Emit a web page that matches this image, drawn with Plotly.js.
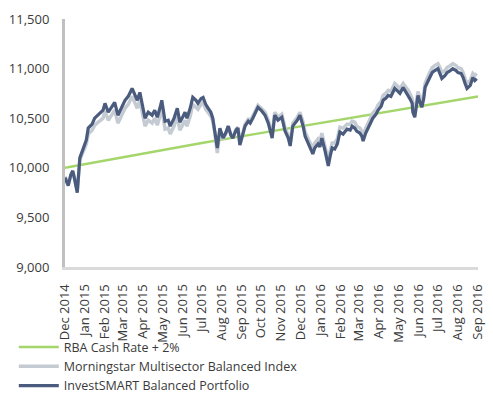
<!DOCTYPE html>
<html>
<head>
<meta charset="utf-8">
<script src="https://cdn.plot.ly/plotly-3.0.1.min.js"></script>
<style>html,body{margin:0;padding:0;background:#fff;}#chart{width:493px;height:393px;}</style>
</head>
<body>
<div id="chart"></div>
<script>
// Monthly benchmark dates and values
var rbaDates = ['2014-12-01','2015-01-01','2015-02-01','2015-03-01','2015-04-01','2015-05-01','2015-06-01','2015-07-01','2015-08-01','2015-09-01','2015-10-01','2015-11-01','2015-12-01','2016-01-01','2016-02-01','2016-03-01','2016-04-01','2016-05-01','2016-06-01','2016-07-01','2016-08-01','2016-09-01'];
var rbaValues = [10000,10037,10074,10110,10146,10182,10216,10250,10284,10318,10352,10386,10420,10454,10488,10522,10556,10590,10623,10656,10688,10718];

// Portfolio / index observation dates
var obsDates = [
'2014-12-01','2014-12-06','2014-12-10','2014-12-13','2014-12-16','2014-12-20','2014-12-24','2014-12-29',
'2015-01-03','2015-01-06','2015-01-12','2015-01-16','2015-01-24','2015-01-29',
'2015-02-01','2015-02-06','2015-02-12','2015-02-16','2015-02-21','2015-02-26','2015-03-04','2015-03-09','2015-03-15','2015-03-19','2015-03-23','2015-03-27',
'2015-04-01','2015-04-04','2015-04-09','2015-04-15','2015-04-19','2015-04-23','2015-04-27','2015-04-30','2015-05-05','2015-05-10','2015-05-13','2015-05-19','2015-05-24','2015-05-28',
'2015-06-02','2015-06-05','2015-06-08','2015-06-13','2015-06-17','2015-06-22','2015-06-25','2015-06-30','2015-07-03','2015-07-07','2015-07-11','2015-07-15','2015-07-18',
'2015-07-21','2015-07-25','2015-07-29','2015-08-03','2015-08-07','2015-08-11','2015-08-15','2015-08-18','2015-08-23','2015-08-26','2015-08-29',
'2015-09-03','2015-09-06','2015-09-11','2015-09-14','2015-09-18','2015-09-23','2015-09-26','2015-10-01','2015-10-07','2015-10-12','2015-10-15','2015-10-18',
'2015-10-22','2015-10-27','2015-11-02','2015-11-07','2015-11-12','2015-11-15','2015-11-19','2015-11-26','2015-11-30',
'2015-12-05','2015-12-08','2015-12-13','2015-12-16','2015-12-20','2015-12-23','2015-12-28','2015-12-31','2016-01-03','2016-01-08','2016-01-13','2016-01-16','2016-01-19','2016-01-23','2016-01-27','2016-01-31',
'2016-02-05','2016-02-11','2016-02-16','2016-02-19','2016-02-23','2016-02-26','2016-03-02','2016-03-05','2016-03-07','2016-03-11','2016-03-15','2016-03-19','2016-03-22','2016-03-27','2016-03-30',
'2016-04-04','2016-04-07','2016-04-11','2016-04-15','2016-04-19','2016-04-25','2016-04-30','2016-05-03','2016-05-08','2016-05-12','2016-05-16','2016-05-19','2016-05-22','2016-05-23','2016-05-26','2016-05-28','2016-05-31',
'2016-06-03','2016-06-06','2016-06-09','2016-06-11','2016-06-16','2016-06-22','2016-06-26','2016-07-01','2016-07-04','2016-07-07','2016-07-12','2016-07-15','2016-07-20','2016-07-24','2016-07-29','2016-08-01','2016-08-06','2016-08-09','2016-08-12','2016-08-15','2016-08-20','2016-08-24','2016-08-27','2016-08-30'
];

var morningstarValues = [
9910,9840,9920,9960,9890,9770,10080,10170,
10240,10340,10380,10430,10480,10500,
10570,10480,10540,10580,10450,10520,10600,10640,10720,10660,10600,10680,
10540,10420,10480,10450,10500,10430,10520,10600,10390,10400,10340,10420,10520,10380,
10440,10480,10420,10520,10640,10610,10590,10640,10660,10590,10560,10520,10470,
10360,10150,10370,10290,10340,10420,10330,10300,10390,10410,10240,
10360,10440,10490,10480,10520,10590,10630,10600,10560,10480,10400,10330,
10560,10510,10540,10400,10330,10260,10450,10510,10560,
10460,10360,10300,10250,10190,10250,10290,10260,10350,10220,10080,10170,10250,10250,10290,10410,
10400,10440,10440,10470,10460,10420,10400,10370,10330,10400,10450,10500,10550,10590,10630,
10670,10730,10750,10780,10770,10850,10820,10800,10850,10820,10780,10740,10700,10620,10570,10650,10770,
10710,10660,10750,10850,10930,11010,11030,11050,11010,10960,10980,11010,11030,11050,11030,11010,11000,10960,10900,10850,10880,10950,10930,10950
];

var investValues = [
9900,9820,9930,9970,9880,9750,10100,10200,
10280,10400,10440,10500,10550,10580,
10650,10560,10620,10660,10530,10600,10680,10720,10800,10740,10680,10760,
10620,10500,10560,10530,10580,10510,10600,10680,10470,10480,10420,10500,10600,10460,
10520,10560,10500,10600,10710,10680,10650,10700,10710,10640,10600,10560,10500,
10380,10200,10400,10300,10350,10420,10330,10300,10380,10400,10230,
10340,10420,10470,10450,10500,10560,10610,10580,10530,10450,10370,10300,
10530,10480,10510,10370,10300,10220,10420,10480,10530,
10420,10320,10250,10200,10140,10200,10240,10210,10300,10170,10020,10120,10200,10190,10240,10360,
10340,10390,10380,10420,10400,10370,10350,10320,10270,10350,10400,10450,10500,10540,10580,
10620,10680,10700,10730,10720,10800,10770,10750,10810,10770,10730,10690,10650,10560,10510,10600,10730,
10660,10610,10700,10810,10880,10960,10980,11000,10950,10900,10930,10960,10980,11000,10980,10960,10950,10910,10850,10800,10830,10910,10880,10900
];

var seriesNames = ['RBA Cash Rate + 2%','Morningstar Multisector Balanced Index','InvestSMART Balanced Portfolio'];
var yTicks = [9000,9500,10000,10500,11000,11500];

var font = 'Open Sans, Lato, sans-serif';
var traces = [
  {x: rbaDates, y: rbaValues, name: seriesNames[0], type: 'scatter', mode: 'lines',
   line: {color: '#a4d66c', width: 2.5}},
  {x: obsDates, y: morningstarValues, name: seriesNames[1], type: 'scatter', mode: 'lines',
   line: {color: '#c4cbd3', width: 3.5}},
  {x: obsDates, y: investValues, name: seriesNames[2], type: 'scatter', mode: 'lines',
   line: {color: '#4a5b7e', width: 3.2}}
];

var layout = {
  width: 493, height: 393,
  margin: {l: 65, r: 15, t: 19, b: 126, autoexpand: false},
  paper_bgcolor: '#fff', plot_bgcolor: '#fff',
  font: {family: font, size: 12.5, color: '#3a3a3a'},
  showlegend: true,
  legend: {
    xref: 'container', yref: 'container', x: 0.028, y: 0.154, xanchor: 'left', yanchor: 'top',
    orientation: 'v', font: {family: font, size: 12.5, color: '#3a3a3a'}, itemwidth: 40,
    tracegroupgap: 0, bgcolor: 'rgba(0,0,0,0)', borderwidth: 0
  },
  xaxis: {
    type: 'date', range: ['2014-12-01', '2016-09-01'],
    tick0: '2014-12-01', dtick: 'M1', tickformat: '%b %Y', tickangle: -90,
    showgrid: false, zeroline: false, showline: true, linecolor: '#dadada', linewidth: 3,
    ticks: 'outside', ticklen: 9, tickcolor: 'rgba(0,0,0,0)',
    tickfont: {family: font, size: 13, color: '#3a3a3a'}, fixedrange: true, automargin: false
  },
  yaxis: {
    range: [9000, 11500], tickvals: yTicks, tickformat: ',d',
    showgrid: false, zeroline: false, showline: true, linecolor: '#c0c0c0', linewidth: 3,
    ticks: 'outside', ticklen: 10, tickcolor: 'rgba(0,0,0,0)',
    tickfont: {family: font, size: 13, color: '#3a3a3a'}, fixedrange: true, automargin: false
  }
};

Plotly.newPlot('chart', traces, layout, {displayModeBar: false, staticPlot: true});
</script>
</body>
</html>
